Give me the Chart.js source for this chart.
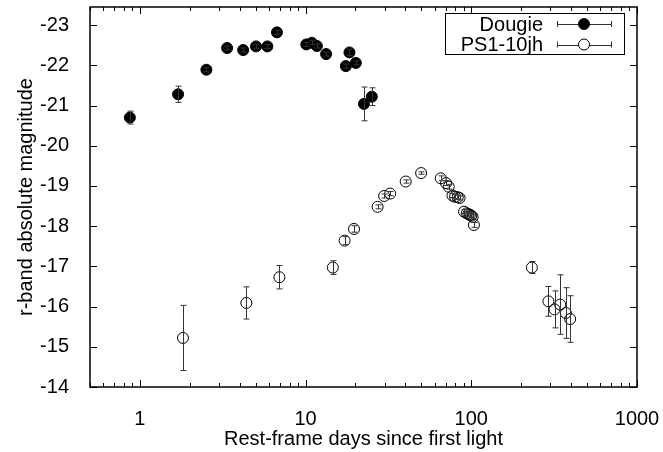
<!DOCTYPE html>
<html>
<head>
<meta charset="utf-8">
<script src="https://cdn.jsdelivr.net/npm/chart.js@4/dist/chart.umd.min.js"></script>
<style>
  html, body { margin: 0; padding: 0; background: #fff; }
</style>
</head>
<body>
<canvas id="c" width="663" height="452"></canvas>
<script>
// Dougie (filled circles)
const dougieDays = [0.87, 1.70, 2.52, 3.36, 4.20, 5.02, 5.88, 6.72, 10.1, 10.9, 11.7, 13.3, 17.5, 18.4, 20.1, 22.5, 25.1];
const dougieMag  = [-20.70, -21.28, -21.89, -22.43, -22.38, -22.47, -22.47, -22.82, -22.52, -22.56, -22.48, -22.28, -21.98, -22.32, -22.06, -21.04, -21.22];
const dougieErr  = [0.16, 0.20, 0.05, 0.05, 0.05, 0.05, 0.05, 0.05, 0.05, 0.05, 0.05, 0.05, 0.05, 0.08, 0.05, 0.42, 0.22];

// PS1-10jh (open circles)
const ps1Days = [1.82, 4.39, 6.95, 14.6, 17.2, 19.6, 27.2, 29.8, 32.4, 40.2, 49.8, 65.4, 70.4, 73.1, 77.0, 79.8, 82.8, 85.0, 90.4, 93.8, 96.0, 98.2, 100.0, 101.9, 103.7, 232, 292, 318, 344, 372, 395];
const ps1Mag  = [-15.22, -16.09, -16.73, -16.97, -17.64, -17.93, -18.48, -18.75, -18.81, -19.11, -19.32, -19.19, -19.07, -18.98, -18.76, -18.73, -18.72, -18.70, -18.36, -18.32, -18.30, -18.28, -18.26, -18.23, -18.03, -16.97, -16.13, -15.93, -16.05, -15.84, -15.69];
const ps1Err  = [0.81, 0.40, 0.29, 0.17, 0.10, 0.08, 0.05, 0.05, 0.05, 0.04, 0.03, 0.06, 0.06, 0.06, 0.05, 0.05, 0.05, 0.05, 0.05, 0.05, 0.05, 0.05, 0.05, 0.05, 0.06, 0.15, 0.37, 0.46, 0.74, 0.63, 0.58];

const seriesNames = ["Dougie", "PS1-10jh"];
const yTicks = [-23, -22, -21, -20, -19, -18, -17, -16, -15, -14];
const xLabels = [1, 10, 100, 1000];

const FONT = { family: "'Liberation Sans', Arial, Helvetica, sans-serif", size: 20 };
const INK = "#000";

function toPoints(xs, ys, es) {
    return xs.map((x, i) => ({ x: x, y: ys[i], err: es[i] }));
}

// vertical error bars, drawn through the scales
const errorBars = {
    id: "errorBars",
    afterDatasetsDraw(chart) {
        const { ctx, scales: { x, y } } = chart;
        ctx.save();
        ctx.strokeStyle = "#333";
        ctx.lineWidth = 1;
        chart.data.datasets.forEach(ds => {
            ds.data.forEach(p => {
                const px = Math.round(x.getPixelForValue(p.x)) + 0.5;
                const y1 = y.getPixelForValue(p.y - p.err);
                const y2 = y.getPixelForValue(p.y + p.err);
                ctx.beginPath();
                ctx.moveTo(px, y1); ctx.lineTo(px, y2);
                ctx.moveTo(px - 3, y1); ctx.lineTo(px + 3, y1);
                ctx.moveTo(px - 3, y2); ctx.lineTo(px + 3, y2);
                ctx.stroke();
            });
        });
        ctx.restore();
    }
};

// frame with inward ticks on all four sides, plus gnuplot-style key
const frame = {
    id: "frame",
    afterDraw(chart) {
        const { ctx, chartArea: a, scales: { x, y } } = chart;
        ctx.save();
        ctx.strokeStyle = INK;
        ctx.lineWidth = 1;
        ctx.beginPath();
        y.ticks.forEach(t => {
            const py = Math.round(y.getPixelForValue(t.value)) + 0.5;
            ctx.moveTo(a.left, py); ctx.lineTo(a.left + 7, py);
            ctx.moveTo(a.right, py); ctx.lineTo(a.right - 7, py);
        });
        x.ticks.forEach(t => {
            const px = Math.round(x.getPixelForValue(t.value)) + 0.5;
            const len = xLabels.includes(t.value) ? 7 : 4;
            ctx.moveTo(px, a.bottom); ctx.lineTo(px, a.bottom - len);
            ctx.moveTo(px, a.top); ctx.lineTo(px, a.top + len);
        });
        ctx.stroke();
        ctx.lineWidth = 1.5;
        ctx.strokeRect(a.left, a.top, a.right - a.left, a.bottom - a.top);

        // key
        const kx = a.right - 12, ky = a.top + 6;
        ctx.lineWidth = 1;
        ctx.strokeRect(kx - 179.5, ky + 0.5, 179, 41);
        ctx.font = FONT.size + "px " + FONT.family;
        ctx.fillStyle = INK;
        ctx.textAlign = "right";
        ctx.textBaseline = "middle";
        seriesNames.forEach((name, i) => {
            const cy = ky + 11 + i * 20.5;
            ctx.fillText(name, kx - 82, cy + 1);
            const lx1 = kx - 68, lx2 = kx - 13, cx = kx - 41;
            ctx.strokeStyle = "#333";
            ctx.beginPath();
            ctx.moveTo(lx1, Math.round(cy) + 0.5); ctx.lineTo(lx2, Math.round(cy) + 0.5);
            ctx.moveTo(lx1 + 0.5, cy - 3); ctx.lineTo(lx1 + 0.5, cy + 3);
            ctx.moveTo(lx2 - 0.5, cy - 3); ctx.lineTo(lx2 - 0.5, cy + 3);
            ctx.stroke();
            ctx.beginPath();
            ctx.arc(cx, cy, 5.5, 0, Math.PI * 2);
            ctx.fillStyle = i === 0 ? INK : "#fff";
            ctx.fill();
            ctx.strokeStyle = INK;
            ctx.stroke();
            ctx.fillStyle = INK;
        });
        ctx.restore();
    }
};

function minorLogTicks(min, max) {
    const out = [];
    for (let e = -1; e <= 3; e++) {
        for (let m = 1; m <= 9; m++) {
            const v = m * Math.pow(10, e);
            if (v >= min - 1e-9 && v <= max + 1e-9) out.push(Number(v.toPrecision(6)));
        }
    }
    return out;
}

new Chart(document.getElementById("c"), {
    type: "scatter",
    data: {
        datasets: [
            {
                label: seriesNames[0],
                data: toPoints(dougieDays, dougieMag, dougieErr),
                pointRadius: 5.5,
                pointHoverRadius: 5.5,
                backgroundColor: INK,
                borderColor: INK,
                borderWidth: 1
            },
            {
                label: seriesNames[1],
                data: toPoints(ps1Days, ps1Mag, ps1Err),
                pointRadius: 5.5,
                pointHoverRadius: 5.5,
                backgroundColor: "rgba(0,0,0,0)",
                borderColor: INK,
                borderWidth: 1
            }
        ]
    },
    options: {
        responsive: false,
        animation: false,
        layout: { padding: { top: 7, right: 26, left: 0, bottom: 0 } },
        plugins: { legend: { display: false }, tooltip: { enabled: false } },
        scales: {
            x: {
                type: "logarithmic",
                min: 0.5,
                max: 1000,
                afterBuildTicks: s => { s.ticks = minorLogTicks(0.5, 1000).map(v => ({ value: v })); },
                afterFit: s => { s.height = 65; s.paddingLeft = 0; s.paddingRight = 0; },
                ticks: {
                    autoSkip: false,
                    maxRotation: 0,
                    padding: 12,
                    color: INK,
                    font: FONT,
                    callback: v => xLabels.includes(v) ? String(v) : ""
                },
                grid: { display: false },
                border: { display: false },
                title: {
                    display: true,
                    text: "Rest-frame days since first light",
                    color: INK,
                    font: FONT,
                    padding: { top: 0, bottom: 1 }
                }
            },
            y: {
                type: "linear",
                reverse: true,
                min: -23.45,
                max: -14,
                afterBuildTicks: s => { s.ticks = yTicks.map(v => ({ value: v })); },
                afterFit: s => { s.width = 90; s.paddingTop = 0; s.paddingBottom = 0; },
                ticks: {
                    padding: 13,
                    color: INK,
                    font: FONT,
                    callback: v => String(v)
                },
                grid: { display: false },
                border: { display: false },
                title: {
                    display: true,
                    text: "r-band absolute magnitude",
                    color: INK,
                    font: FONT,
                    padding: { top: 14, bottom: 0 }
                }
            }
        }
    },
    plugins: [errorBars, frame]
});
</script>
</body>
</html>
